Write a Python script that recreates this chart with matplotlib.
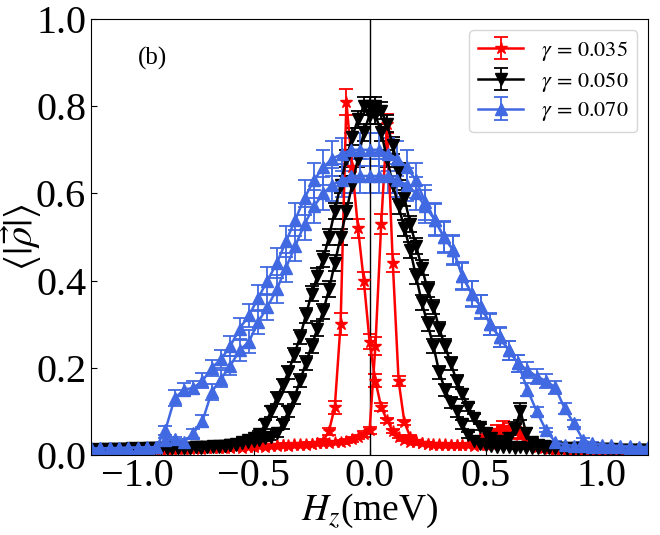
import numpy as np
import matplotlib.pyplot as plt

plt.rcParams['font.family'] = ['Liberation Serif', 'DejaVu Serif']
plt.rcParams['mathtext.fontset'] = 'stix'

# field sweep grids (meV)
H_fine = np.linspace(-1.2, 1.2, 97)    # step 0.025 (gamma 0.035, 0.050)
H_coarse = np.linspace(-1.2, 1.2, 61)  # step 0.04 (gamma 0.070)

# gamma = 0.035, two sweep branches
red_a = [0.008, 0.010, 0.009, 0.011, 0.010, 0.012, 0.010, 0.011,
         0.012, 0.011, 0.013, 0.012, 0.012, 0.014, 0.013, 0.013,
         0.014, 0.013, 0.015, 0.014, 0.016, 0.015, 0.016, 0.017,
         0.016, 0.018, 0.017, 0.019, 0.018, 0.020, 0.019, 0.021,
         0.020, 0.022, 0.021, 0.023, 0.024, 0.023, 0.025, 0.027,
         0.032, 0.055, 0.11, 0.30, 0.81, 0.66, 0.52, 0.40,
         0.26, 0.17, 0.11, 0.08, 0.055, 0.042, 0.035, 0.031,
         0.029, 0.027, 0.026, 0.025, 0.024, 0.025, 0.023, 0.024,
         0.022, 0.023, 0.021, 0.022, 0.024, 0.026, 0.030, 0.038,
         0.050, 0.060, 0.048, 0.035, 0.025, 0.018, 0.015, 0.013,
         0.012, 0.011, 0.012, 0.010, 0.011, 0.010, 0.009, 0.010,
         0.009, 0.010, 0.008, 0.009, 0.008, 0.009, 0.008, 0.008,
         0.008]
red_a_err = [0.002, 0.002, 0.002, 0.003, 0.002, 0.003, 0.002, 0.003,
             0.003, 0.002, 0.003, 0.003, 0.002, 0.003, 0.003, 0.003,
             0.003, 0.003, 0.003, 0.003, 0.003, 0.003, 0.003, 0.003,
             0.003, 0.003, 0.003, 0.003, 0.003, 0.003, 0.003, 0.003,
             0.003, 0.003, 0.003, 0.003, 0.003, 0.003, 0.003, 0.004,
             0.004, 0.008, 0.015, 0.025, 0.030, 0.025, 0.022, 0.020,
             0.018, 0.015, 0.010, 0.006, 0.004, 0.003, 0.003, 0.003,
             0.003, 0.003, 0.003, 0.003, 0.003, 0.003, 0.003, 0.003,
             0.003, 0.003, 0.003, 0.003, 0.003, 0.004, 0.006, 0.008,
             0.010, 0.012, 0.008, 0.006, 0.004, 0.003, 0.003, 0.002,
             0.002, 0.002, 0.002, 0.002, 0.002, 0.002, 0.002, 0.002,
             0.002, 0.002, 0.002, 0.002, 0.002, 0.002, 0.002, 0.002,
             0.002]
red_b = [0.007, 0.008, 0.008, 0.009, 0.009, 0.010, 0.010, 0.011,
         0.011, 0.012, 0.012, 0.013, 0.013, 0.014, 0.014, 0.015,
         0.015, 0.016, 0.016, 0.017, 0.017, 0.018, 0.018, 0.019,
         0.019, 0.020, 0.020, 0.021, 0.021, 0.022, 0.022, 0.023,
         0.023, 0.024, 0.024, 0.025, 0.025, 0.026, 0.026, 0.027,
         0.027, 0.028, 0.029, 0.030, 0.032, 0.036, 0.042, 0.048,
         0.057, 0.25, 0.53, 0.76, 0.44, 0.17, 0.075, 0.042,
         0.032, 0.028, 0.026, 0.024, 0.025, 0.023, 0.022, 0.024,
         0.023, 0.025, 0.028, 0.035, 0.042, 0.050, 0.058, 0.065,
         0.062, 0.055, 0.045, 0.035, 0.028, 0.022, 0.018, 0.015,
         0.014, 0.013, 0.012, 0.012, 0.011, 0.011, 0.010, 0.010,
         0.010, 0.009, 0.009, 0.009, 0.008, 0.008, 0.008, 0.008,
         0.008]
red_b_err = [0.002, 0.002, 0.002, 0.002, 0.002, 0.002, 0.002, 0.002,
             0.002, 0.002, 0.002, 0.002, 0.002, 0.002, 0.002, 0.002,
             0.003, 0.003, 0.003, 0.003, 0.003, 0.003, 0.003, 0.003,
             0.003, 0.003, 0.003, 0.003, 0.003, 0.003, 0.003, 0.003,
             0.003, 0.003, 0.003, 0.003, 0.003, 0.003, 0.003, 0.003,
             0.003, 0.003, 0.003, 0.004, 0.004, 0.005, 0.005, 0.006,
             0.008, 0.020, 0.022, 0.022, 0.020, 0.012, 0.006, 0.004,
             0.003, 0.003, 0.003, 0.003, 0.003, 0.003, 0.003, 0.003,
             0.003, 0.003, 0.004, 0.005, 0.006, 0.008, 0.010, 0.012,
             0.012, 0.010, 0.008, 0.006, 0.004, 0.003, 0.003, 0.002,
             0.002, 0.002, 0.002, 0.002, 0.002, 0.002, 0.002, 0.002,
             0.002, 0.002, 0.002, 0.002, 0.002, 0.002, 0.002, 0.002,
             0.002]

# gamma = 0.050
black_a = [0.012, 0.013, 0.012, 0.014, 0.013, 0.014, 0.013, 0.015,
           0.014, 0.015, 0.014, 0.016, 0.015, 0.016, 0.015, 0.017,
           0.016, 0.017, 0.018, 0.017, 0.019, 0.020, 0.019, 0.021,
           0.022, 0.025, 0.030, 0.034, 0.038, 0.048, 0.070, 0.10,
           0.13, 0.16, 0.19, 0.23, 0.27, 0.32, 0.37, 0.41,
           0.45, 0.50, 0.56, 0.62, 0.68, 0.73, 0.77, 0.80,
           0.80, 0.78, 0.74, 0.68, 0.62, 0.57, 0.52, 0.47,
           0.41, 0.35, 0.30, 0.25, 0.19, 0.15, 0.12, 0.10,
           0.070, 0.045, 0.032, 0.026, 0.022, 0.020, 0.019, 0.018,
           0.018, 0.017, 0.018, 0.016, 0.017, 0.016, 0.016, 0.015,
           0.015, 0.015, 0.014, 0.014, 0.014, 0.013, 0.013, 0.013,
           0.013, 0.012, 0.012, 0.012, 0.012, 0.011, 0.011, 0.011,
           0.011]
black_a_err = [0.002, 0.002, 0.002, 0.002, 0.002, 0.002, 0.002, 0.002,
               0.002, 0.002, 0.002, 0.002, 0.002, 0.002, 0.002, 0.002,
               0.002, 0.002, 0.003, 0.003, 0.003, 0.003, 0.003, 0.003,
               0.003, 0.004, 0.005, 0.006, 0.007, 0.008, 0.010, 0.012,
               0.014, 0.015, 0.015, 0.016, 0.016, 0.017, 0.017, 0.018,
               0.018, 0.018, 0.019, 0.019, 0.020, 0.020, 0.020, 0.020,
               0.020, 0.020, 0.020, 0.019, 0.019, 0.018, 0.018, 0.018,
               0.017, 0.017, 0.016, 0.016, 0.015, 0.014, 0.013, 0.012,
               0.010, 0.007, 0.005, 0.004, 0.003, 0.003, 0.003, 0.003,
               0.003, 0.003, 0.003, 0.002, 0.002, 0.002, 0.002, 0.002,
               0.002, 0.002, 0.002, 0.002, 0.002, 0.002, 0.002, 0.002,
               0.002, 0.002, 0.002, 0.002, 0.002, 0.002, 0.002, 0.002,
               0.002]
black_b = [0.011, 0.012, 0.012, 0.013, 0.012, 0.013, 0.013, 0.014,
           0.014, 0.014, 0.015, 0.015, 0.015, 0.016, 0.016, 0.016,
           0.017, 0.017, 0.018, 0.018, 0.019, 0.019, 0.020, 0.021,
           0.022, 0.024, 0.027, 0.030, 0.032, 0.035, 0.038, 0.042,
           0.050, 0.070, 0.10, 0.13, 0.17, 0.21, 0.25, 0.29,
           0.33, 0.38, 0.44, 0.50, 0.56, 0.62, 0.68, 0.74,
           0.78, 0.80, 0.79, 0.76, 0.71, 0.65, 0.59, 0.53,
           0.48, 0.43, 0.38, 0.34, 0.29, 0.25, 0.21, 0.17,
           0.14, 0.11, 0.085, 0.064, 0.050, 0.038, 0.032, 0.030,
           0.040, 0.060, 0.10, 0.050, 0.030, 0.022, 0.020, 0.018,
           0.017, 0.016, 0.016, 0.015, 0.015, 0.014, 0.014, 0.014,
           0.013, 0.013, 0.013, 0.012, 0.012, 0.012, 0.012, 0.011,
           0.011]
black_b_err = [0.002, 0.002, 0.002, 0.002, 0.002, 0.002, 0.002, 0.002,
               0.002, 0.002, 0.002, 0.002, 0.002, 0.002, 0.002, 0.002,
               0.002, 0.002, 0.003, 0.003, 0.003, 0.003, 0.003, 0.003,
               0.003, 0.004, 0.004, 0.005, 0.005, 0.006, 0.006, 0.007,
               0.008, 0.010, 0.012, 0.014, 0.015, 0.016, 0.016, 0.017,
               0.017, 0.018, 0.018, 0.019, 0.019, 0.020, 0.020, 0.020,
               0.020, 0.020, 0.020, 0.020, 0.019, 0.019, 0.018, 0.018,
               0.018, 0.017, 0.017, 0.016, 0.016, 0.015, 0.014, 0.013,
               0.012, 0.010, 0.008, 0.007, 0.006, 0.005, 0.005, 0.006,
               0.010, 0.015, 0.020, 0.012, 0.006, 0.004, 0.003, 0.003,
               0.002, 0.002, 0.002, 0.002, 0.002, 0.002, 0.002, 0.002,
               0.002, 0.002, 0.002, 0.002, 0.002, 0.002, 0.002, 0.002,
               0.002]

# gamma = 0.070 (coarser grid)
blue_a = [0.014, 0.015, 0.015, 0.016, 0.016,
          0.017, 0.017, 0.018, 0.057, 0.13,
          0.15, 0.154, 0.17, 0.20, 0.22,
          0.25, 0.29, 0.32, 0.36, 0.40,
          0.44, 0.49, 0.54, 0.59, 0.63,
          0.66, 0.68, 0.69, 0.70, 0.70,
          0.70, 0.70, 0.69, 0.68, 0.66,
          0.63, 0.58, 0.54, 0.50, 0.47,
          0.41, 0.37, 0.34, 0.30, 0.27,
          0.24, 0.21, 0.15, 0.10, 0.057,
          0.030, 0.024, 0.021, 0.020, 0.019,
          0.019, 0.018, 0.018, 0.017, 0.017,
          0.016]
blue_a_err = [0.002, 0.002, 0.002, 0.002, 0.002,
              0.002, 0.002, 0.003, 0.010, 0.018,
              0.015, 0.015, 0.017, 0.019, 0.021,
              0.023, 0.025, 0.027, 0.029, 0.032,
              0.034, 0.036, 0.038, 0.040, 0.040,
              0.040, 0.040, 0.038, 0.038, 0.038,
              0.038, 0.038, 0.038, 0.040, 0.040,
              0.040, 0.040, 0.038, 0.036, 0.034,
              0.032, 0.030, 0.028, 0.025, 0.023,
              0.021, 0.019, 0.015, 0.010, 0.005,
              0.003, 0.002, 0.002, 0.002, 0.002,
              0.002, 0.002, 0.002, 0.002, 0.002,
              0.002]
blue_b = [0.015, 0.015, 0.016, 0.016, 0.017,
          0.017, 0.018, 0.018, 0.034, 0.036,
          0.030, 0.050, 0.078, 0.145, 0.175,
          0.205, 0.24, 0.26, 0.305, 0.34,
          0.38, 0.43, 0.48, 0.53, 0.57,
          0.60, 0.62, 0.63, 0.64, 0.64,
          0.64, 0.64, 0.64, 0.63, 0.62,
          0.60, 0.57, 0.54, 0.50, 0.47,
          0.41, 0.37, 0.34, 0.30, 0.27,
          0.24, 0.21, 0.195, 0.18, 0.17,
          0.155, 0.107, 0.073, 0.034, 0.027,
          0.024, 0.022, 0.021, 0.020, 0.019,
          0.018]
blue_b_err = [0.002, 0.002, 0.002, 0.002, 0.002,
              0.002, 0.002, 0.003, 0.006, 0.006,
              0.006, 0.010, 0.014, 0.018, 0.020,
              0.022, 0.024, 0.026, 0.028, 0.030,
              0.032, 0.034, 0.036, 0.038, 0.038,
              0.038, 0.038, 0.038, 0.038, 0.038,
              0.038, 0.038, 0.038, 0.038, 0.038,
              0.038, 0.038, 0.036, 0.034, 0.032,
              0.030, 0.028, 0.026, 0.024, 0.022,
              0.021, 0.020, 0.018, 0.017, 0.016,
              0.015, 0.012, 0.008, 0.004, 0.003,
              0.002, 0.002, 0.002, 0.002, 0.002,
              0.002]

series = [
    ('red', '*', 9, r'$\gamma\,=\,0.035$', H_fine,
     [(red_a, red_a_err), (red_b, red_b_err)]),
    ('black', 'v', 8, r'$\gamma\,=\,0.050$', H_fine,
     [(black_a, black_a_err), (black_b, black_b_err)]),
    ('royalblue', '^', 8, r'$\gamma\,=\,0.070$', H_coarse,
     [(blue_a, blue_a_err), (blue_b, blue_b_err)]),
]

fig = plt.figure(figsize=(6.6, 5.35), dpi=100)
ax = fig.add_axes([0.138, 0.1495, 0.844, 0.815])

for color, marker, msize, label, x, branches in series:
    for k, (vals, errs) in enumerate(branches):
        assert len(vals) == len(x) and len(errs) == len(x)
        ax.errorbar(x, vals, yerr=errs, color=color, marker=marker,
                    markersize=msize, linewidth=1.8,
                    capsize=5, elinewidth=1.3, capthick=1.3,
                    label=label if k == 0 else None)

ax.axvline(0, color='black', linewidth=1)

ax.set_xlim(-1.2, 1.2)
ax.set_ylim(0, 1.0)
ax.set_xticks([-1.0, -0.5, 0.0, 0.5, 1.0])
ax.set_yticks([0, 0.2, 0.4, 0.6, 0.8, 1.0])
ax.set_yticklabels(['0.0', '0.2', '0.4', '0.6', '0.8', '1.0'])
ax.tick_params(direction='in', labelsize=29, length=4)
ax.tick_params(axis='x', pad=2)
ax.set_xlabel(r'$H_z$(meV)', fontsize=27)
ax.set_ylabel(r'$\langle|\vec{\rho}|\rangle$', fontsize=29)
ax.xaxis.set_label_coords(0.5, -0.085)
ax.yaxis.set_label_coords(-0.085, 0.5)

ax.text(-1.0, 0.91, '(b)', fontsize=18, ha='left', va='center')

ax.legend(loc='upper right', fontsize=16, handlelength=2.0,
          borderpad=0.4, labelspacing=0.3, handletextpad=0.8)

fig.savefig('out.png', dpi=100)
